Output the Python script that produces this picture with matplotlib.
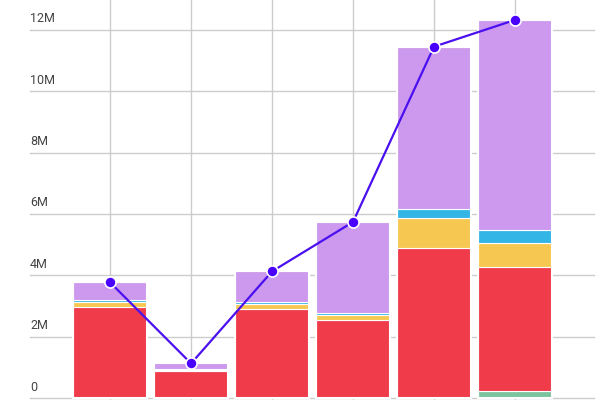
import numpy as np
import matplotlib
matplotlib.use('Agg')
import matplotlib.pyplot as plt

x = np.arange(6)
green = [0, 0, 0, 0, 0, 0.23]
red = [2.97, 0.87, 2.90, 2.55, 4.90, 4.03]
yellow = [0.16, 0.04, 0.16, 0.16, 0.97, 0.80]
blue = [0.06, 0.03, 0.07, 0.06, 0.29, 0.42]
purple = [0.58, 0.19, 1.00, 2.97, 5.29, 6.84]
total = [3.77, 1.13, 4.13, 5.74, 11.45, 12.32]
ticks = [0, 2, 4, 6, 8, 10, 12]
tick_labels = ['0', '2M', '4M', '6M', '8M', '10M', '12M']

fig = plt.figure(figsize=(6, 4), dpi=100)
ax = fig.add_axes([0, 0, 1, 1])
ax.set_xlim(-1.36, 6.05)
ax.set_ylim(-0.06, 12.97)
ax.axis('off')

for t, lab in zip(ticks, tick_labels):
    ax.axhline(t, xmin=0.05, xmax=0.99, color='#cccccc', lw=1, zorder=0)
    ax.text(-0.99, t + 0.15, lab, ha='left', va='bottom', fontsize=9, color='#444444', family='Roboto')
for xi in x:
    ax.axvline(xi, color='#cccccc', lw=1, zorder=0)

bottom = np.zeros(6)
for vals, col in [(green, '#7cc4a0'), (red, '#ef3b4a'), (yellow, '#f6c851'),
                  (blue, '#33b5e5'), (purple, '#cc99ee')]:
    ax.bar(x, vals, 0.92, bottom=bottom, color=col, edgecolor='white', lw=0.8, zorder=2)
    bottom += np.array(vals)
# white outlines around whole bars
ax.bar(x, total, 0.92, fill=False, edgecolor='white', lw=1.5, zorder=3)

ax.plot(x, total, color='#4a10f0', lw=1.6, marker='o', ms=8, mfc='#4a00ff',
        mec='white', mew=1.2, zorder=4)

fig.savefig('out.png', dpi=100)
